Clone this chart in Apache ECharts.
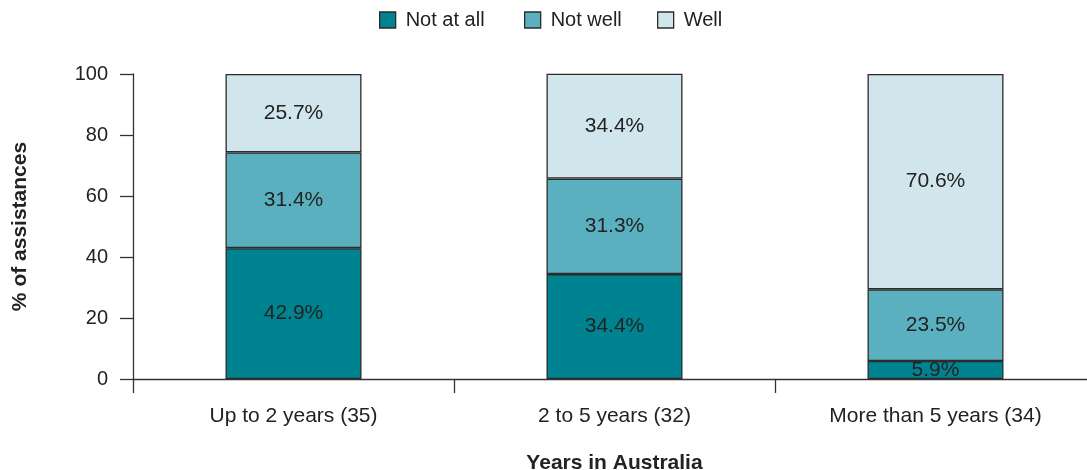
<!DOCTYPE html>
<html><head><meta charset="utf-8">
<script src="https://cdn.jsdelivr.net/npm/echarts@6/dist/echarts.min.js"></script>
<style>html,body{margin:0;padding:0;background:#fff}#c{width:1087px;height:470px}</style>
</head><body><div id="c"></div>
<script>
const categories = ['Up to 2 years (35)', '2 to 5 years (32)', 'More than 5 years (34)'];
const notAtAll = [42.9, 34.4, 5.9];
const notWell = [31.4, 31.3, 23.5];
const well = [25.7, 34.4, 70.6];
const seriesNames = ['Not at all', 'Not well', 'Well'];
const colors = ['#008391', '#5BB0C0', '#D0E6EC'];
const yTicks = [0, 20, 40, 60, 80, 100];

const chart = echarts.init(document.getElementById('c'));
const font = 'Liberation Sans, Arial, sans-serif';
function mk(name, data, color) {
  return {
    name, type: 'bar', stack: 'all', data, barWidth: 136,
    itemStyle: { color, borderColor: '#2b2b2b', borderWidth: 1.3 },
    label: { show: true, position: 'inside', formatter: p => p.value.toFixed(1) + '%',
      color: '#222', fontSize: 21, fontFamily: font },
    emphasis: { disabled: true }
  };
}
const legendLefts = [379, 524, 657];
const legends = seriesNames.map((n, i) => ({
  top: 10, left: legendLefts[i], padding: 0, itemWidth: 16, itemHeight: 16, icon: 'rect',
  textStyle: { fontSize: 20, color: '#222', fontFamily: font, padding: [0, 0, 0, 5] },
  itemStyle: { borderColor: '#2b2b2b', borderWidth: 1.3 },
  data: [n]
}));
chart.setOption({
  animation: false,
  textStyle: { fontFamily: font },
  legend: legends,
  grid: { left: 133, right: -9, top: 74, bottom: 91, containLabel: false, outerBoundsMode: 'none' },
  xAxis: {
    type: 'category', data: categories,
    name: 'Years in Australia', nameLocation: 'middle', nameGap: 74,
    nameTextStyle: { fontSize: 21, fontWeight: 'bold', color: '#222', fontFamily: font },
    axisLine: { lineStyle: { color: '#333', width: 1.3 } },
    axisTick: { show: true, length: 14, alignWithLabel: false, lineStyle: { color: '#333', width: 1.3 } },
    axisLabel: { fontSize: 21, color: '#222', margin: 27, fontFamily: font }
  },
  yAxis: {
    type: 'value', min: 0, max: 100, interval: 20,
    name: '% of assistances', nameLocation: 'middle', nameGap: 102,
    nameTextStyle: { fontSize: 21, fontWeight: 'bold', color: '#222', fontFamily: font },
    axisLine: { show: true, lineStyle: { color: '#333', width: 1.3 } },
    axisTick: { show: true, length: 13, lineStyle: { color: '#333', width: 1.3 } },
    axisLabel: { fontSize: 20, color: '#222', margin: 25, fontFamily: font,
      formatter: v => yTicks.includes(v) ? String(v) : '' },
    splitLine: { show: false }
  },
  series: [mk(seriesNames[0], notAtAll, colors[0]), mk(seriesNames[1], notWell, colors[1]), mk(seriesNames[2], well, colors[2])]
});
</script></body></html>
